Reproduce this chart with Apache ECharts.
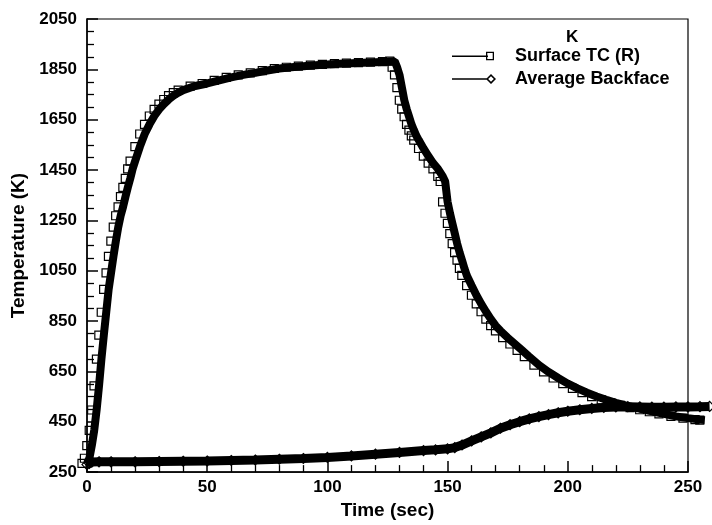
<!DOCTYPE html>
<html>
<head>
<meta charset="utf-8">
<script src="https://cdn.jsdelivr.net/npm/echarts@6/dist/echarts.min.js"></script>
<style>
html,body{margin:0;padding:0;background:#fff;}
#chart{width:712px;height:525px;}
</style>
</head>
<body>
<div id="chart"></div>
<script>
// ---- data ----
var seriesNames = ['Surface TC (R)', 'Average Backface'];
var legendTitle = 'K';
var xTicks = [0, 50, 100, 150, 200, 250];
var yTicks = [250, 450, 650, 850, 1050, 1250, 1450, 1650, 1850, 2050];

var surfaceTime = [0,1,2,3,4,5,6,7,8,9,10,11,12,13,14,15,16,17,18,19,20,22,24,26,28,30,32,34,36,38,40,45,50,55,60,65,70,75,80,85,90,95,100,105,110,115,120,125,128,129,130,131,132,133,134,135,136,137,138,140,142,144,146,148,149,150,151,152,153,154,155,156,157,158,160,162,164,166,168,170,172,175,178,181,184,188,192,196,200,204,208,212,216,220,224,228,232,236,240,245,250,255,257];
var surfaceTemp = [300,320,370,430,510,605,710,805,895,985,1050,1115,1175,1230,1275,1310,1350,1387,1422,1460,1490,1547,1597,1635,1668,1694,1715,1733,1748,1760,1770,1786,1796,1808,1820,1830,1838,1847,1855,1860,1864,1868,1871,1874,1876,1878,1880,1882,1884,1860,1830,1780,1730,1695,1665,1635,1612,1590,1573,1540,1510,1482,1460,1430,1410,1330,1285,1245,1205,1165,1130,1100,1068,1040,1000,962,928,897,868,842,822,795,770,745,720,687,660,636,614,595,578,563,550,538,528,519,511,503,495,485,478,472,470];

var backTime = [0,1,2,5,10,20,30,40,50,60,70,80,90,100,110,120,130,140,145,150,153,156,160,164,168,172,176,180,184,188,192,196,200,205,210,215,220,225,230,235,240,245,250,255,259];
var backTemp = [295,300,305,306,306,306,307,308,309,311,313,316,319,323,329,336,343,350,353,357,362,372,388,404,420,438,452,464,475,484,492,499,505,511,516,520,522,523,522,521,521,522,522,523,524];

function pairs(xs, ys){ var out=[]; for(var i=0;i<xs.length;i++){ out.push([xs[i], ys[i]]); } return out; }

var FONT = '"Liberation Sans", Arial, Helvetica, sans-serif';
var chart = echarts.init(document.getElementById('chart'), null, {renderer:'canvas'});

var X_MAX = xTicks[xTicks.length-1];
var X_DATA_MAX = 260;           // data run a little past the last tick
var GRID_LEFT = 87, GRID_RIGHT = 24, W = 712;
var plotW = W - GRID_LEFT - GRID_RIGHT;
var dataGridRight = W - GRID_LEFT - plotW * X_DATA_MAX / X_MAX;

var option = {
  animation: false,
  backgroundColor: '#fff',
  title: {
    text: legendTitle, left: 566, top: 29, padding: 0,
    textStyle: {fontFamily: FONT, fontSize: 17, fontWeight: 'bold', color: '#000'}
  },
  legend: {
    orient: 'vertical', left: 452, top: 47, padding: 0,
    itemWidth: 44, itemHeight: 10, itemGap: 5,
    selectedMode: false,
    itemStyle: {color: '#000', borderWidth: 0},
    textStyle: {fontFamily: FONT, fontSize: 18, fontWeight: 'bold', color: '#000', padding: [0,0,0,14]},
    data: [
      {name: seriesNames[0], icon: 'path://M0,4.2 L36,4.2 L36,5.8 L0,5.8 Z M34,0.5 L42,0.5 L42,9 L34,9 Z M35.3,1.8 L35.3,7.7 L40.7,7.7 L40.7,1.8 Z M44,5 L44,5.01 Z'},
      {name: seriesNames[1], icon: 'path://M0,4.2 L35,4.2 L35,5.8 L0,5.8 Z M34,5 L39,0 L44,5 L39,10 Z M36.2,5 L39,7.8 L41.8,5 L39,2.2 Z'}
    ]
  },
  grid: [
    {left: GRID_LEFT, right: GRID_RIGHT, top: 19, bottom: 49, show: true, borderColor: '#000', borderWidth: 1.2, backgroundColor: 'transparent'},
    {left: GRID_LEFT, right: dataGridRight, top: 19, bottom: 49, show: false}
  ],
  xAxis: [{
    gridIndex: 0, type: 'value', min: xTicks[0], max: X_MAX, interval: 50,
    name: 'Time (sec)', nameLocation: 'middle', nameGap: 24,
    nameTextStyle: {fontFamily: FONT, fontSize: 19, fontWeight: 'bold', color: '#000'},
    axisLine: {show: true, onZero: false, lineStyle: {color: '#000', width: 1.5}},
    axisTick: {show: true, inside: true, length: 11, lineStyle: {color: '#000', width: 1.5}},
    minorTick: {show: true, splitNumber: 5, length: 7, lineStyle: {color: '#000', width: 1.3}},
    splitLine: {show: false},
    axisLabel: {margin: 7, fontFamily: FONT, fontSize: 17, fontWeight: 'bold', color: '#000'}
  }, {
    gridIndex: 1, type: 'value', min: xTicks[0], max: X_DATA_MAX, show: false
  }],
  yAxis: [{
    gridIndex: 0, type: 'value', min: yTicks[0], max: yTicks[yTicks.length-1], interval: 200,
    name: 'Temperature (K)', nameLocation: 'middle', nameGap: 59,
    nameTextStyle: {fontFamily: FONT, fontSize: 19, fontWeight: 'bold', color: '#000'},
    axisLine: {show: true, onZero: false, lineStyle: {color: '#000', width: 1.5}},
    axisTick: {show: true, inside: true, length: 11, lineStyle: {color: '#000', width: 1.5}},
    minorTick: {show: true, splitNumber: 4, length: 7, lineStyle: {color: '#000', width: 1.3}},
    splitLine: {show: false},
    axisLabel: {margin: 10, fontFamily: FONT, fontSize: 17, fontWeight: 'bold', color: '#000',
      formatter: function(v){ return String(v); }}
  }, {
    gridIndex: 1, type: 'value', min: yTicks[0], max: yTicks[yTicks.length-1], show: false
  }],
  series: [
    {
      name: seriesNames[0], type: 'line', xAxisIndex: 1, yAxisIndex: 1,
      data: pairs(surfaceTime, surfaceTemp),
      showSymbol: true, showAllSymbol: true,
      symbol: 'rect', symbolSize: 8, symbolOffset: [-5, 0],
      lineStyle: {color: '#000', width: 8},
      itemStyle: {color: 'transparent', borderColor: '#000', borderWidth: 1.2},
      emphasis: {disabled: true}, z: 2
    },
    {
      name: seriesNames[1], type: 'line', xAxisIndex: 1, yAxisIndex: 1,
      data: pairs(backTime, backTemp),
      showSymbol: true, showAllSymbol: true,
      symbol: 'diamond', symbolSize: 10,
      lineStyle: {color: '#000', width: 9},
      itemStyle: {color: 'transparent', borderColor: '#000', borderWidth: 1.2},
      emphasis: {disabled: true}, z: 3
    }
  ]
};
chart.setOption(option);
</script>
</body>
</html>
